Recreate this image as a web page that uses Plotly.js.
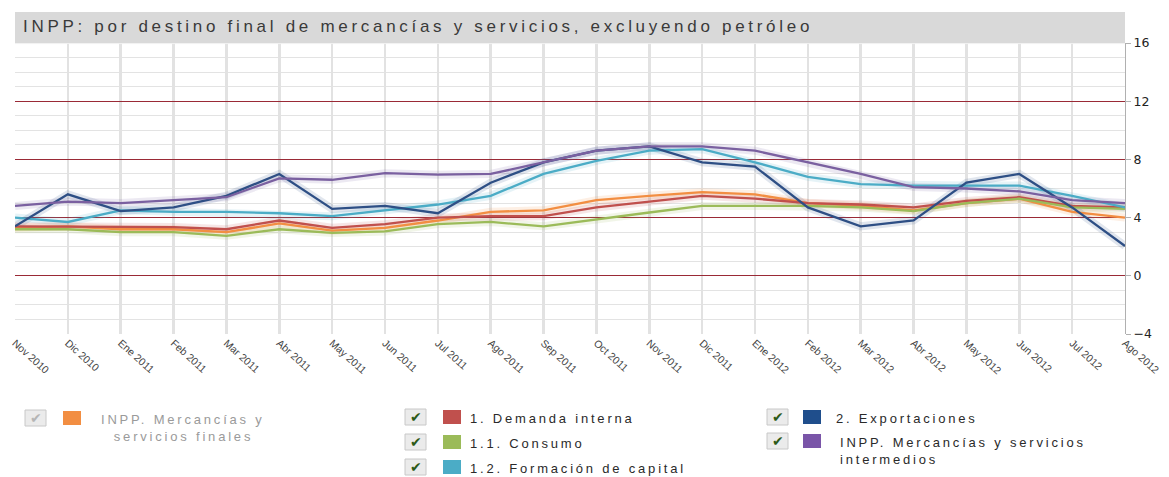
<!DOCTYPE html>
<html>
<head>
<meta charset="utf-8">
<script src="https://cdn.plot.ly/plotly-3.0.1.min.js"></script>
<style>
html,body{margin:0;padding:0;background:#fff;}
#chart{width:1169px;height:477px;}
</style>
</head>
<body>
<div id="chart"></div>
<script>
// ---- data ----
const months = ['Nov 2010','Dic 2010','Ene 2011','Feb 2011','Mar 2011','Abr 2011','May 2011','Jun 2011','Jul 2011','Ago 2011','Sep 2011','Oct 2011','Nov 2011','Dic 2011','Ene 2012','Feb 2012','Mar 2012','Abr 2012','May 2012','Jun 2012','Jul 2012','Ago 2012'];
const seriesNames = ['INPP. Mercancías y servicios finales','1. Demanda interna','1.1. Consumo','1.2. Formación de capital','2. Exportaciones','INPP. Mercancías y servicios intermedios'];
const mercFinales   = [3.3,3.4,3.2,3.2,3.0,3.6,3.1,3.3,3.8,4.4,4.5,5.2,5.5,5.75,5.6,5.0,4.8,4.5,5.0,5.3,4.4,4.0];
const demandaInt    = [3.4,3.4,3.35,3.35,3.2,3.8,3.3,3.55,4.0,4.1,4.1,4.7,5.1,5.5,5.3,5.0,4.9,4.7,5.15,5.4,4.8,4.7];
const consumo       = [3.2,3.2,3.0,3.0,2.75,3.2,2.95,3.05,3.55,3.7,3.4,3.9,4.35,4.8,4.8,4.8,4.7,4.45,5.0,5.3,4.7,4.6];
const formacion     = [4.0,3.7,4.5,4.4,4.4,4.3,4.1,4.5,4.9,5.5,7.0,7.9,8.6,8.7,7.8,6.8,6.3,6.2,6.2,6.2,5.5,4.7];
const exportaciones = [3.4,5.6,4.45,4.7,5.5,7.0,4.6,4.8,4.3,6.4,7.8,8.6,8.9,7.8,7.5,4.7,3.4,3.8,6.4,7.0,4.7,2.05];
const intermedios   = [4.8,5.1,5.0,5.2,5.4,6.7,6.6,7.05,6.95,7.0,7.8,8.6,8.9,8.9,8.6,7.8,7.0,6.1,6.0,5.8,5.2,5.0];
const yTicks = [-4,0,4,8,12,16];
const titleText = 'INPP: por destino final de mercancías y servicios, excluyendo petróleo';

// ---- styling ----
const colors = ['#f28e42','#c0504d','#9bbb59','#4bacc6','#2e4f85','#7a60a0'];
const seriesData = [mercFinales, demandaInt, consumo, formacion, exportaciones, intermedios];
const xIdx = months.map((m,i)=>i);

const traces = [];
seriesData.forEach((d,k)=>{
  traces.push({x:xIdx,y:d,type:'scatter',mode:'lines',hoverinfo:'skip',showlegend:false,
    line:{color:colors[k],width:8},opacity:0.14});
});
seriesData.forEach((d,k)=>{
  traces.push({x:xIdx,y:d,type:'scatter',mode:'lines',name:seriesNames[k],showlegend:false,
    line:{color:colors[k],width:2.3}});
});

// geometry helpers (pixel -> paper)
const W=1169,H=477,ML=15,MR=44,MT=43,MB=143;
const PW=W-ML-MR, PH=H-MT-MB;
const px=x=>(x-ML)/PW, py=y=>(H-MB-y)/PH;
const spaced=(t,ls)=>'<span style="letter-spacing:'+ls+'px">'+t+'</span>';

const shapes=[];
const annotations=[];
// title bar
shapes.push({type:'rect',xref:'paper',yref:'paper',x0:0,x1:1,y0:py(43.6),y1:py(12),
  fillcolor:'#d9d9d9',line:{width:0},layer:'above'});
shapes.push({type:'line',xref:'paper',yref:'paper',x0:0,x1:1,y0:py(43.6),y1:py(43.6),
  line:{color:'#f2f2f2',width:1},layer:'above'});
annotations.push({xref:'paper',yref:'paper',x:px(21),y:py(27),xanchor:'left',yanchor:'middle',
  text:spaced(titleText,3.7),showarrow:false,font:{family:'Liberation Sans, Arial',size:17,color:'#3a3a3a'}});

// legend (custom)
const legendPos = [
  {cx:25, cy:418, sx:63, tx:99, lines:['INPP. Mercancías y','&nbsp;&nbsp;servicios finales'], enabled:false},
  {cx:405,cy:417, sx:443,tx:468,lines:['1. Demanda interna'],enabled:true},
  {cx:405,cy:442, sx:443,tx:468,lines:['1.1. Consumo'],enabled:true},
  {cx:405,cy:467, sx:443,tx:468,lines:['1.2. Formación de capital'],enabled:true},
  {cx:767,cy:417, sx:803,tx:834,lines:['2. Exportaciones'],enabled:true},
  {cx:767,cy:441, sx:803,tx:838,lines:['INPP. Mercancías y servicios','intermedios'],enabled:true}
];
const legColors = ['#f28e42','#c0504d','#9bbb59','#4bacc6','#1f4e8c','#7a55a8'];
legendPos.forEach((p,k)=>{
  shapes.push({type:'rect',xref:'paper',yref:'paper',x0:px(p.cx),x1:px(p.cx+21),y0:py(p.cy+8),y1:py(p.cy-8),
    fillcolor:'#ebebeb',line:{color:'#c8c8c8',width:1}});
  annotations.push({xref:'paper',yref:'paper',x:px(p.cx+11),y:py(p.cy),xanchor:'center',yanchor:'middle',
    text:'✔',showarrow:false,font:{family:'DejaVu Sans',size:14,color:p.enabled?'#2c5a18':'#b5b5b5'}});
  shapes.push({type:'rect',xref:'paper',yref:'paper',x0:px(p.sx),x1:px(p.sx+18),y0:py(p.cy+7),y1:py(p.cy-7),
    fillcolor:legColors[k],line:{width:0}});
  annotations.push({xref:'paper',yref:'paper',x:px(p.tx),y:py(p.cy-8),xanchor:'left',yanchor:'top',align:'left',
    text:p.lines.map(l=>spaced(l,2.8)).join('<br>'),showarrow:false,
    font:{family:'Liberation Sans, Arial',size:13,color:p.enabled?'#2a2a2a':'#9a9a9a'}});
});

const layout = {
  width:W,height:H,
  margin:{l:ML,r:MR,t:MT,b:MB,pad:0},
  paper_bgcolor:'#fff',plot_bgcolor:'#fff',
  showlegend:false,
  xaxis:{range:[0,21],tickvals:xIdx,ticktext:months,tickangle:42,
    showgrid:true,gridcolor:'#e2e2e2',gridwidth:2.5,zeroline:false,showline:false,
    ticks:'',tickfont:{family:'Liberation Sans, Arial',size:10.5,color:'#444'},fixedrange:true},
  yaxis:{range:[-4,16],side:'right',tickvals:yTicks,showgrid:true,gridcolor:'#9a2a36',gridwidth:1.3,
    zeroline:false,showline:true,linecolor:'#b0b0b0',linewidth:1,ticks:'outside',ticklen:5,tickcolor:'#b0b0b0',
    tickfont:{family:'DejaVu Sans',size:12.5,color:'#222'},
    minor:{dtick:1,showgrid:true,gridcolor:'#e3e3e3',gridwidth:1},fixedrange:true},
  shapes:shapes,annotations:annotations
};
Plotly.newPlot('chart',traces,layout,{displayModeBar:false,staticPlot:true});
</script>
</body>
</html>
